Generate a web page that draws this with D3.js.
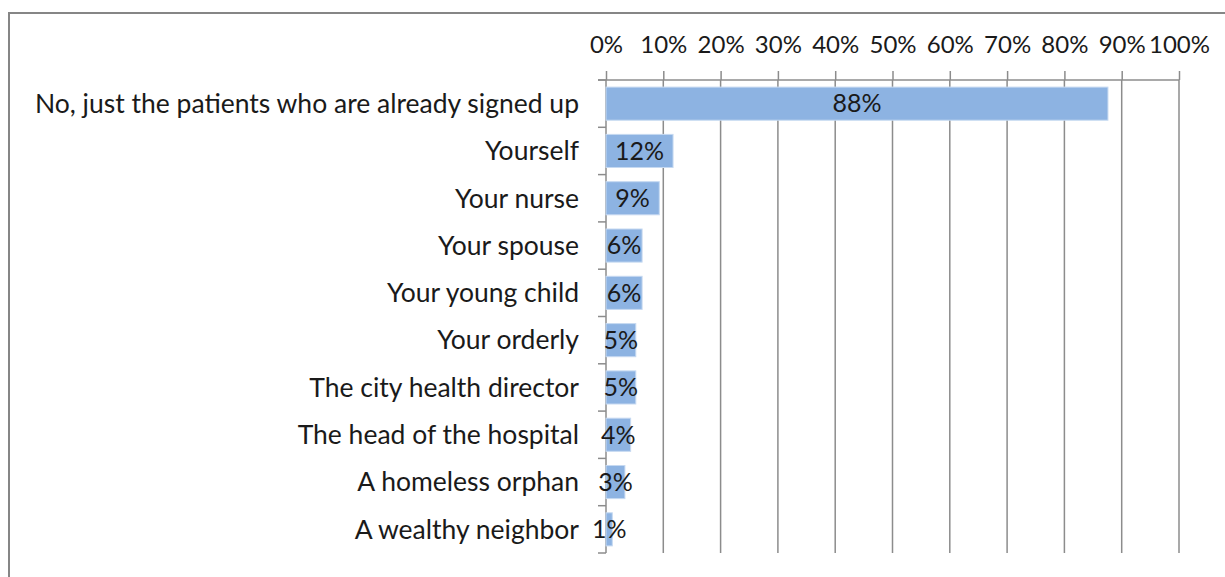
<!DOCTYPE html>
<html>
<head>
<meta charset="utf-8">
<script src="https://cdnjs.cloudflare.com/ajax/libs/d3/7.8.5/d3.min.js"></script>
<style>
  body { margin: 0; background: #fff; }
  svg text { font-family: Lato, "Open Sans", sans-serif; fill: #1a1a1a; }
</style>
</head>
<body>
<svg id="canvas" width="1225" height="577"></svg>
<script>
var categories = [
  "No, just the patients who are already signed up",
  "Yourself",
  "Your nurse",
  "Your spouse",
  "Your young child",
  "Your orderly",
  "The city health director",
  "The head of the hospital",
  "A homeless orphan",
  "A wealthy neighbor"
];
var values = [0.876, 0.117, 0.093, 0.063, 0.063, 0.052, 0.052, 0.043, 0.033, 0.011];
var tickValues = [0, 0.1, 0.2, 0.3, 0.4, 0.5, 0.6, 0.7, 0.8, 0.9, 1];

var width = 1225, height = 577;
var margins = { left: 606, right: 46, top: 80, bottom: 24 };
var tickFont = 24, labelFont = 26.5, valueFont = 25;

var canvas = d3.select("#canvas");

// outer frame
canvas.append("rect")
  .attr("x", 9).attr("y", 13)
  .attr("width", 1240).attr("height", 600)
  .attr("fill", "none")
  .attr("stroke", "#868686")
  .attr("stroke-width", 2);

var x = d3.scaleLinear()
  .domain([0, 1])
  .range([margins.left, width - margins.right]);

var y = d3.scaleBand()
  .domain(categories)
  .range([margins.top, height - margins.bottom])
  .paddingInner(0.3)
  .paddingOuter(0.15);

// gridlines
canvas.append("g")
  .selectAll("line")
  .data(tickValues.slice(1))
  .enter()
  .append("line")
  .attr("x1", function(d) { return x(d); })
  .attr("x2", function(d) { return x(d); })
  .attr("y1", margins.top)
  .attr("y2", height - margins.bottom)
  .attr("stroke", "#8c8c8c")
  .attr("stroke-width", 1.5);

// top axis
var xAxis = canvas.append("g")
  .attr("transform", "translate(0," + margins.top + ")")
  .call(
    d3.axisTop()
    .scale(x)
    .tickValues(tickValues)
    .tickSize(9)
    .tickPadding(18)
    .tickFormat(d3.format(".0%"))
  );
xAxis.select(".domain").attr("stroke", "#8c8c8c").attr("stroke-width", 1.5)
  .attr("d", "M" + (margins.left - 8) + ",0H" + x(1));
xAxis.selectAll(".tick line").attr("stroke", "#8c8c8c").attr("stroke-width", 1.5);
xAxis.selectAll(".tick text")
  .style("font-size", tickFont + "px")
  .attr("fill", "#1a1a1a");

// left axis with ticks between categories
var bounds = d3.range(categories.length + 1).map(function(i) {
  return margins.top + i * (height - margins.bottom - margins.top) / categories.length;
});
var yAxisG = canvas.append("g");
yAxisG.append("line")
  .attr("x1", margins.left).attr("x2", margins.left)
  .attr("y1", margins.top).attr("y2", height - margins.bottom)
  .attr("stroke", "#8c8c8c").attr("stroke-width", 1.5);
yAxisG.selectAll("line.tk")
  .data(bounds)
  .enter()
  .append("line")
  .attr("class", "tk")
  .attr("x1", margins.left - 8).attr("x2", margins.left)
  .attr("y1", function(d) { return d; })
  .attr("y2", function(d) { return d; })
  .attr("stroke", "#8c8c8c").attr("stroke-width", 1.5);

// category labels
canvas.append("g")
  .selectAll("text")
  .data(categories)
  .enter()
  .append("text")
  .attr("x", margins.left - 27)
  .attr("y", function(d) { return y(d) + y.bandwidth() / 2; })
  .attr("dy", "0.35em")
  .attr("text-anchor", "end")
  .style("font-size", labelFont + "px")
  .text(function(d) { return d; });

// bars
canvas.append("g")
  .selectAll("rect")
  .data(values)
  .enter()
  .append("rect")
  .attr("x", x(0))
  .attr("y", function(d, i) { return y(categories[i]); })
  .attr("width", function(d) { return x(d) - x(0); })
  .attr("height", y.bandwidth())
  .attr("fill", "#8db3e2")
  .attr("stroke", "#c6d9f1")
  .attr("stroke-width", 1);

// value labels
canvas.append("g")
  .selectAll("text")
  .data(values)
  .enter()
  .append("text")
  .attr("x", function(d) { return (x(0) + x(d)) / 2; })
  .attr("y", function(d, i) { return y(categories[i]) + y.bandwidth() / 2; })
  .attr("dy", "0.35em")
  .attr("text-anchor", "middle")
  .style("font-size", valueFont + "px")
  .text(function(d) { return d3.format(".0%")(d); });
</script>
</body>
</html>
